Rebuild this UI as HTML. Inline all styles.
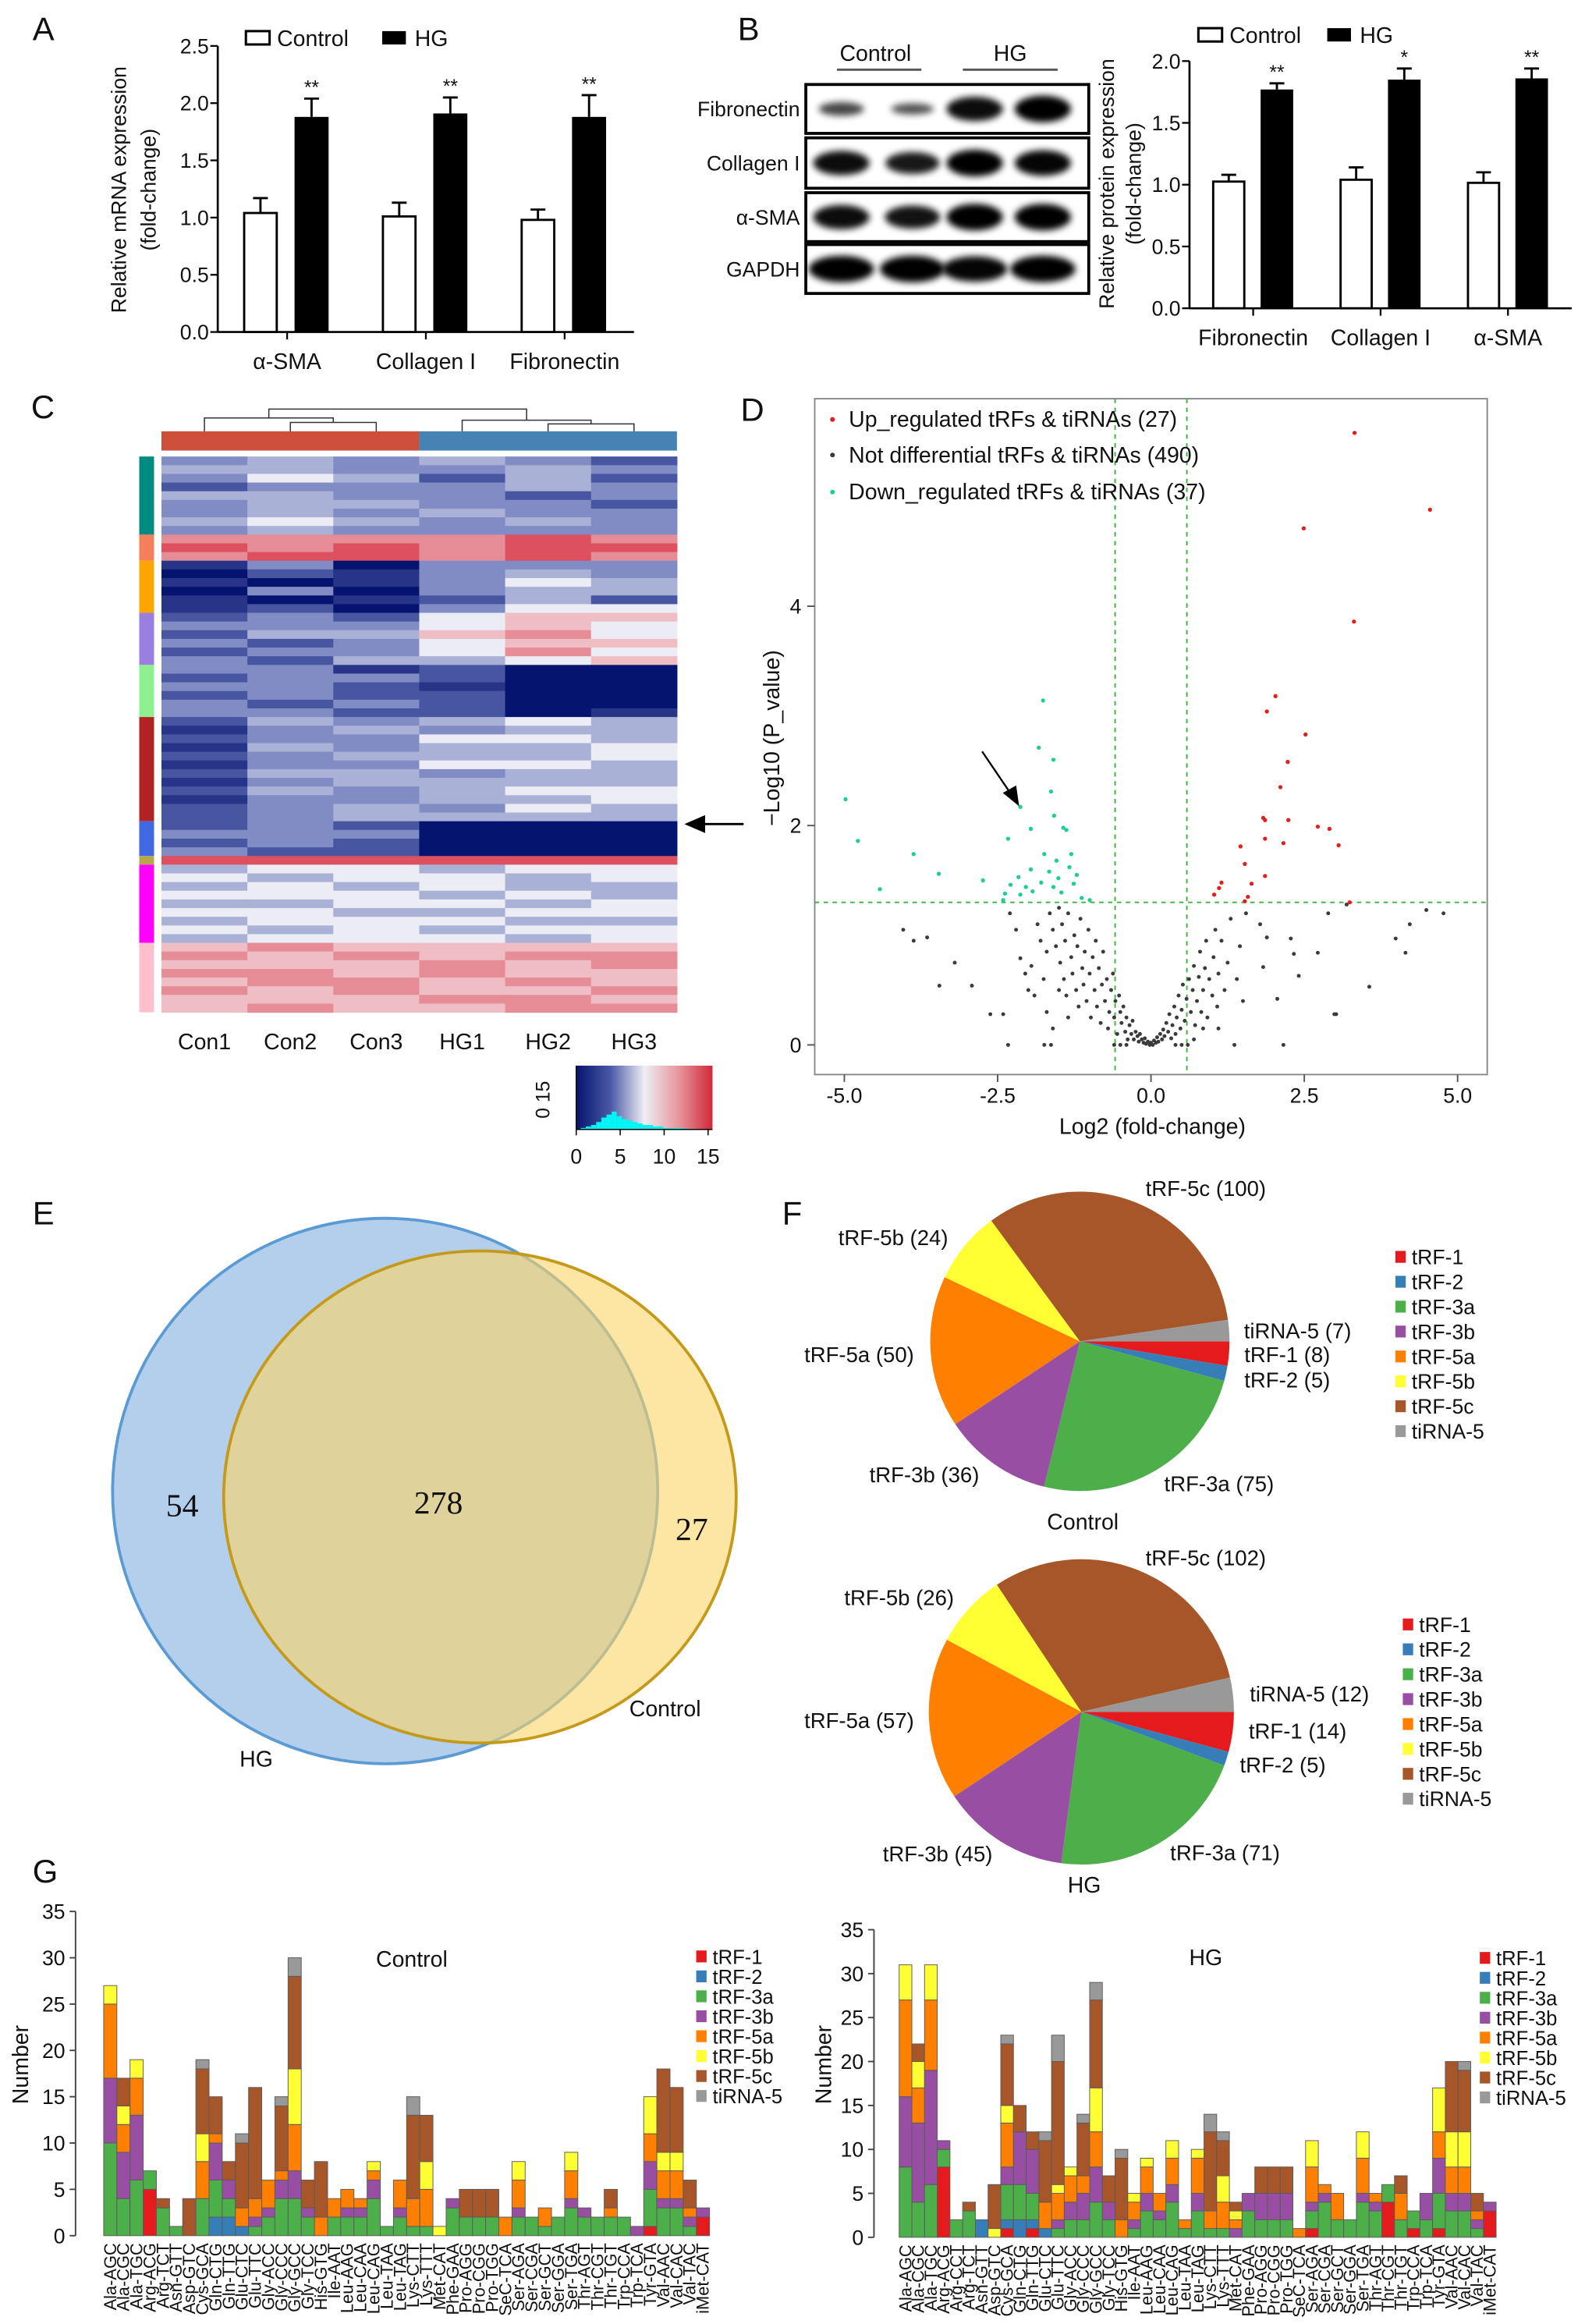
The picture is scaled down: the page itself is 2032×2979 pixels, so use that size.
<!DOCTYPE html>
<html><head><meta charset="utf-8">
<style>
html,body{margin:0;padding:0;background:#fff}
svg{display:block}
text{font-family:"Liberation Sans",sans-serif;fill:#111}
.n{font-family:"Liberation Sans Narrow","Liberation Sans",sans-serif}
.serif{font-family:"Liberation Serif",serif}
</style></head>
<body>
<svg id="fig" xmlns="http://www.w3.org/2000/svg" width="2032" height="2979" viewBox="0 0 1070 1568" preserveAspectRatio="none">
<defs>
<filter id="blur" x="-50%" y="-50%" width="200%" height="200%"><feGaussianBlur stdDeviation="2.2"/></filter>
<linearGradient id="keygrad" x1="0" y1="0" x2="1" y2="0">
<stop offset="0" stop-color="#05146e"/><stop offset="0.25" stop-color="#4a58a6"/><stop offset="0.5" stop-color="#eeeef4"/><stop offset="0.75" stop-color="#e6969c"/><stop offset="1" stop-color="#d2283a"/>
</linearGradient>
</defs>
<rect x="0" y="0" width="1070" height="1568" fill="#fff"/>
</svg>
<script>
// ---------- DATA ----------
const aCats=['α-SMA','Collagen I','Fibronectin'];
const aCtrl=[1.04,1.01,0.98];
const aCtrlErr=[0.13,0.12,0.09];
const aHG=[1.88,1.91,1.88];
const aHGErr=[0.16,0.14,0.19];
const aStars=['**','**','**'];
const aTicks=[0,0.5,1.0,1.5,2.0,2.5];

const bCats=['Fibronectin','Collagen I','α-SMA'];
const bCtrl=[1.025,1.04,1.015];
const bCtrlErr=[0.055,0.10,0.085];
const bHG=[1.77,1.85,1.86];
const bHGErr=[0.05,0.09,0.08];
const bStars=['**','*','**'];
const bTicks=[0,0.5,1.0,1.5,2.0];

const wbRows=['Fibronectin','Collagen I','α-SMA','GAPDH'];
const wbIntensity=[[0.45,0.35,0.9,1.0],[0.9,0.8,1.0,0.95],[0.9,0.85,1.0,1.0],[1.0,1.0,0.95,1.0]];

const hmCols=['Con1','Con2','Con3','HG1','HG2','HG3'];
const hmRows=[
"343432","443343","354242","233343","443323","344332","343433","454343","343333",
"777787","878788","788787",
"130333","021343","101354","030344","101242","120355",
"232566","333565","244675","323566","233575","324456",
"331200","233200","332100","232200","323200","332201",
"243454","134344","233554","143445","234445","133554","244344","134444","243455","133445","234354","234444",
"232000","333000","232000","322000",
"888888",
"455455","545545","454544","555454","445545","554455","455544","545455","455545",
"676666","767677","666767","776766","677676","767667","666776","676677"];
const hmGroupSizes=[9,3,6,6,6,12,4,1,9,8];
const hmGroupColors=['#008b82','#f47f5a','#ffa500','#9b7fe0','#8ff08f','#b22222','#4169e1','#b8a64a','#ff00ff','#ffc0cb'];
const keyTicks=[0,5,10,15];
const keyHist=[1,2,3,5,8,10,12,9,7,6,5,4,3,3,2,2,1,1,1,1,0.5,0.5];

const volUp=[[3.32,5.58],[4.55,4.88],[2.49,4.71],[3.31,3.86],[2.03,3.18],[1.89,3.04],[2.52,2.83],[2.23,2.58],[2.11,2.35],[1.83,2.07],[1.86,2.05],[2.24,2.05],[2.72,1.99],[2.91,1.97],[1.86,1.88],[2.16,1.84],[3.06,1.82],[1.46,1.81],[1.53,1.65],[1.86,1.54],[1.64,1.47],[1.15,1.48],[1.11,1.43],[1.03,1.37],[1.58,1.35],[1.53,1.31],[3.24,1.30]];
const volDown=[[-1.76,3.14],[-1.83,2.71],[-1.59,2.6],[-4.98,2.24],[-1.63,2.31],[-2.13,2.17],[-1.58,2.09],[-1.96,1.97],[-1.38,1.96],[-4.78,1.86],[-2.33,1.88],[-1.43,1.98],[-1.3,1.74],[-1.74,1.74],[-3.87,1.74],[-1.54,1.68],[-1.33,1.62],[-1.96,1.6],[-1.66,1.58],[-3.46,1.56],[-2.16,1.53],[-1.51,1.52],[-1.21,1.55],[-2.74,1.5],[-1.79,1.48],[-2.29,1.46],[-2.04,1.44],[-4.42,1.42],[-1.26,1.47],[-1.59,1.44],[-1.93,1.4],[-2.38,1.38],[-1.0,1.32],[-2.13,1.37],[-1.46,1.39],[-2.41,1.32],[-1.13,1.34]];
const volNone=[[-4.04,1.05],[-3.87,0.95],[-3.65,0.98],[-3.2,0.75],[-3.45,0.54],[-2.92,0.54],[-2.62,0.28],[-2.41,0.28],[-2.33,0],[-1.74,0],[-1.63,0],[-2.13,0.79],[-2.05,0.65],[-1.95,0.72],[-2.0,0.5],[-2.3,1.2],[-2.2,1.05],[-1.85,1.1],[-1.8,0.95],[-1.7,0.85],[-1.65,1.2],[-1.6,1.05],[-1.55,0.9],[-1.5,1.25],[-1.48,0.75],[-1.45,1.1],[-1.42,0.6],[-1.4,0.95],[-1.38,0.45],[-1.35,1.2],[-1.3,0.8],[-1.28,0.65],[-1.25,1.0],[-1.22,0.5],[-1.2,0.9],[-1.18,0.35],[-1.15,1.15],[-1.12,0.7],[-1.1,0.55],[-1.08,0.85],[-1.05,0.4],[-1.02,1.05],[-1.0,0.65],[-0.98,0.25],[-0.95,0.8],[-0.92,0.5],[-0.9,0.95],[-0.88,0.35],[-0.85,0.7],[-0.82,0.2],[-0.8,0.55],[-0.78,0.85],[-0.75,0.4],[-0.72,0.6],[-0.7,0.15],[-0.68,0.3],[-0.65,0.5],[-0.62,0.65],[-0.6,0.25],[-0.58,0.4],[-0.55,0.1],[-0.52,0.45],[-0.5,0.3],[-0.48,0.2],[-0.45,0.35],[-0.42,0.12],[-0.4,0.25],[-0.38,0.05],[-0.35,0.18],[-0.32,0.1],[-0.3,0.22],[-0.28,0.05],[-0.25,0.12],[-0.22,0.08],[-0.2,0.03],[-0.18,0.1],[-0.15,0.05],[-0.12,0.02],[-0.1,0.06],[-0.08,0.01],[-0.05,0.03],[-0.02,0.0],[0.0,0.02],[0.03,0.0],[0.05,0.04],[0.08,0.02],[0.1,0.07],[0.12,0.03],[0.15,0.1],[0.18,0.05],[0.2,0.14],[0.22,0.08],[0.25,0.2],[0.28,0.12],[0.3,0.28],[0.33,0.06],[0.35,0.18],[0.38,0.35],[0.4,0.1],[0.42,0.25],[0.45,0.45],[0.48,0.15],[0.5,0.32],[0.52,0.55],[0.55,0.22],[0.58,0.42],[0.6,0.0],[0.62,0.6],[0.65,0.3],[0.68,0.5],[0.7,0.72],[0.72,0.18],[0.75,0.4],[0.78,0.62],[0.8,0.85],[0.82,0.3],[0.85,0.5],[0.88,0.7],[0.9,0.95],[0.92,0.25],[0.95,0.6],[1.0,0.45],[1.02,0.8],[1.05,1.05],[1.08,0.35],[1.1,0.65],[1.15,0.95],[1.2,0.5],[1.25,0.75],[1.3,1.15],[1.36,0],[1.4,0.6],[1.45,0.9],[1.5,0.4],[1.55,1.2],[1.78,1.1],[1.83,0.71],[1.89,0.98],[2.06,0.42],[2.16,0],[2.28,0.97],[2.33,0.83],[2.41,0.63],[2.72,0.84],[2.89,1.2],[2.99,0.28],[3.02,0.28],[3.19,1.28],[3.56,0.53],[3.99,0.97],[4.15,0.84],[4.22,1.1],[4.49,1.23],[4.77,1.2],[-0.6,0],[-0.5,0],[-0.4,0],[0.4,0],[0.5,0],[-1.9,0.45],[-1.75,0.6],[-1.7,0.3],[-1.6,0.15],[-1.5,0.5],[-1.35,0.25],[0.7,0.05],[0.85,0.15],[1.1,0.15]];
const volXTicks=[-5.0,-2.5,0.0,2.5,5.0];
const volYTicks=[0,2,4];

const vennCounts=[54,278,27];

const fragTypes=['tRF-1','tRF-2','tRF-3a','tRF-3b','tRF-5a','tRF-5b','tRF-5c','tiRNA-5'];
const fragColors=['#e41a1c','#377eb8','#4daf4a','#984ea3','#ff7f00','#ffff33','#a65628','#999999'];
const pieCtrl=[8,5,75,36,50,24,100,7];
const pieHG=[14,5,71,45,57,26,102,12];

const gCatsCtrl=['Ala-AGC','Ala-CGC','Ala-TGC','Arg-ACG','Arg-TCT','Asn-GTT','Asp-GTC','Cys-GCA','Gln-CTG','Gln-TTG','Glu-CTC','Glu-TTC','Gly-ACC','Gly-CCC','Gly-GCC','Gly-TCC','His-GTG','Ile-AAT','Leu-AAG','Leu-CAA','Leu-CAG','Leu-TAA','Leu-TAG','Lys-CTT','Lys-TTT','Met-CAT','Phe-GAA','Pro-AGG','Pro-CGG','Pro-TGG','SeC-TCA','Ser-AGA','Ser-CGA','Ser-GCT','Ser-GGA','Ser-TGA','Thr-AGT','Thr-CGT','Thr-TGT','Trp-CCA','Trp-TCA','Tyr-GTA','Val-AAC','Val-CAC','Val-TAC','iMet-CAT'];
const gCatsHG=['Ala-AGC','Ala-CGC','Ala-TGC','Arg-ACG','Arg-CCT','Arg-TCT','Asn-GTT','Asp-GTC','Cys-GCA','Gln-CTG','Gln-TTG','Glu-CTC','Glu-TTC','Gly-ACC','Gly-CCC','Gly-GCC','Gly-TCC','His-GTG','Ile-AAT','Leu-AAG','Leu-CAA','Leu-CAG','Leu-TAA','Leu-TAG','Lys-CTT','Lys-TTT','Met-CAT','Phe-GAA','Pro-AGG','Pro-CGG','Pro-TGG','SeC-TCA','Ser-AGA','Ser-CGA','Ser-GCT','Ser-GGA','Ser-TGA','Thr-AGT','Thr-CGT','Thr-TGT','Trp-CCA','Trp-TCA','Tyr-GTA','Val-AAC','Val-CAC','Val-TAC','iMet-CAT'];
const gYTicks=[0,5,10,15,20,25,30,35];

const ctrlTRF1=[0,0,0,5,0,0,0,0,0,0,0,0,0,0,0,0,0,0,0,0,0,0,0,0,0,0,0,0,0,0,0,0,0,0,0,0,0,0,0,0,0,1,0,0,0,2];
const ctrlTRF2=[0,0,0,0,0,0,0,0,2,2,1,0,0,0,0,0,0,0,0,0,0,0,0,0,0,0,0,0,0,0,0,0,0,0,0,0,0,0,0,0,0,0,0,0,0,0];
const ctrlTRF3a=[10,4,6,2,3,1,0,4,4,2,0,1,2,4,4,2,0,2,2,2,4,1,2,1,1,0,3,2,2,2,0,2,2,1,2,3,2,2,2,2,0,4,3,3,1,0];
const ctrlTRF3b=[7,5,7,0,0,0,0,0,4,2,0,1,1,2,3,1,0,0,1,1,2,0,1,0,0,0,1,0,0,0,0,1,0,0,0,1,1,0,0,0,1,3,1,1,1,1];
const ctrlTRF5a=[8,3,4,0,0,0,0,4,1,0,2,2,3,1,5,0,2,2,2,1,1,0,3,3,4,0,0,0,0,0,2,3,0,2,0,3,0,0,1,0,0,3,3,3,1,0];
const ctrlTRF5b=[2,2,2,0,0,0,0,3,0,0,0,0,0,0,6,0,0,0,0,0,1,0,0,0,3,1,0,0,0,0,0,2,0,0,0,2,0,0,0,0,0,4,2,2,0,0];
const ctrlTRF5c=[0,3,0,0,1,0,4,7,4,2,7,12,0,7,10,3,6,0,0,0,0,0,0,9,5,0,0,3,3,3,0,0,0,0,0,0,0,0,2,0,0,0,9,7,3,0];
const ctrlTiRNA5=[0,0,0,0,0,0,0,1,0,0,1,0,0,1,2,0,0,0,0,0,0,0,0,2,0,0,0,0,0,0,0,0,0,0,0,0,0,0,0,0,0,0,0,0,0,0];

const hgTRF1=[0,0,0,8,0,0,0,0,1,0,1,0,0,0,0,0,0,0,0,0,0,0,0,0,0,0,0,0,0,0,0,0,1,0,0,0,0,0,4,0,1,0,1,0,0,0,3];
const hgTRF2=[0,0,0,0,0,0,2,0,1,2,1,1,0,0,0,0,0,0,0,0,0,0,0,0,0,0,0,0,0,0,0,0,0,0,0,0,0,0,0,0,0,0,0,0,0,0,0];
const hgTRF3a=[8,4,6,2,2,3,0,0,4,4,3,0,1,2,2,4,2,0,1,3,2,4,1,3,1,1,0,3,2,2,2,0,2,4,2,2,4,3,2,2,2,2,4,3,3,1,0];
const hgTRF3b=[8,9,13,1,0,0,0,0,2,6,5,0,1,2,3,4,2,0,1,2,1,2,0,2,0,0,1,2,3,3,3,0,1,1,0,0,1,1,0,0,0,3,4,2,2,1,1];
const hgTRF5a=[11,4,8,0,0,0,0,0,5,0,0,3,3,3,2,4,0,2,2,3,2,3,1,4,2,3,1,0,0,0,0,1,4,1,3,0,4,1,0,3,0,0,3,3,3,1,0];
const hgTRF5b=[4,3,4,0,0,0,0,1,2,0,0,0,1,1,0,5,0,0,1,1,0,2,0,1,0,3,1,0,0,0,0,0,3,0,0,0,3,0,0,0,0,0,5,4,4,0,0];
const hgTRF5c=[0,2,0,0,0,1,0,5,7,3,2,7,14,0,6,10,3,7,0,0,0,0,0,0,9,4,1,0,3,3,3,0,0,0,0,0,0,0,0,2,0,0,0,8,7,2,0];
const hgTiRNA5=[0,0,0,0,0,0,0,0,1,0,0,1,3,0,1,2,0,1,0,0,0,0,0,0,2,1,0,0,0,0,0,0,0,0,0,0,0,0,0,0,0,0,0,0,1,0,0];

// ---------- HELPERS ----------
const NS='http://www.w3.org/2000/svg';
const svg=document.getElementById('fig');
function mk(tag,attrs,parent){const e=document.createElementNS(NS,tag);for(const k in attrs)e.setAttribute(k,attrs[k]);(parent||svg).appendChild(e);return e;}
function tx(x,y,s,size,extra,parent){const e=mk('text',Object.assign({x:x,y:y,'font-size':size},extra||{}),parent);e.textContent=s;return e;}
function grp(name){const g=mk('g',{});


return g;}
function panelLetter(x,y,s){const t=tx(x,y,s,22,{});

}

panelLetter(22,27,'A');panelLetter(498,27,'B');panelLetter(21,282,'C');panelLetter(500,284,'D');
panelLetter(22,826,'E');panelLetter(528,826,'F');panelLetter(22,1270,'G');

// ---------- BAR PANELS A & B ----------
function barPanel(cfg,cats,ctrl,ctrlErr,hg,hgErr,stars,ticks){
  const g=grp(cfg.name);
  const y=v=>cfg.y0-v*cfg.ppu;
  const xc=i=>cfg.x0+(i+0.5)*(cfg.x1-cfg.x0)/cats.length;
  const ax=mk('line',{x1:cfg.x0,y1:cfg.y0,x2:cfg.x0,y2:y(ticks[ticks.length-1]),stroke:'#000','stroke-width':1.4},g);
  
  
  const xa=mk('line',{x1:cfg.x0,y1:cfg.y0,x2:cfg.x1,y2:cfg.y0,stroke:'#000','stroke-width':1.4},g);
  
  
  ticks.forEach(t=>{
    mk('line',{x1:cfg.x0-5,y1:y(t),x2:cfg.x0,y2:y(t),stroke:'#000','stroke-width':1.2},g);
    const l=tx(cfg.x0-6,y(t)+5,t.toFixed(1),14,{'text-anchor':'end',class:'n'},g);
    
    
  });
  cats.forEach((c,i)=>{
    const cx=xc(i);
    mk('line',{x1:cx,y1:cfg.y0,x2:cx,y2:cfg.y0+5,stroke:'#000','stroke-width':1.2},g);
    const lab=tx(cx,cfg.labY,c,15,{'text-anchor':'middle',class:'n'},g);
    
    
    const wx=cx+cfg.wOff, bx=cx+cfg.bOff;
    mk('line',{x1:wx+cfg.ww/2,y1:y(ctrl[i]),x2:wx+cfg.ww/2,y2:y(ctrl[i]+ctrlErr[i]),stroke:'#000','stroke-width':1.5},g);
    mk('line',{x1:wx+cfg.ww/2-5,y1:y(ctrl[i]+ctrlErr[i]),x2:wx+cfg.ww/2+5,y2:y(ctrl[i]+ctrlErr[i]),stroke:'#000','stroke-width':1.5},g);
    const wb=mk('rect',{x:wx,y:y(ctrl[i]),width:cfg.ww,height:ctrl[i]*cfg.ppu,fill:'#fff',stroke:'#000','stroke-width':1.5},g);
    
    
    mk('line',{x1:bx+cfg.bw/2,y1:y(hg[i]),x2:bx+cfg.bw/2,y2:y(hg[i]+hgErr[i]),stroke:'#000','stroke-width':1.5},g);
    mk('line',{x1:bx+cfg.bw/2-5,y1:y(hg[i]+hgErr[i]),x2:bx+cfg.bw/2+5,y2:y(hg[i]+hgErr[i]),stroke:'#000','stroke-width':1.5},g);
    const bb=mk('rect',{x:bx,y:y(hg[i]),width:cfg.bw,height:hg[i]*cfg.ppu,fill:'#000'},g);
    
    
    const st=tx(bx+cfg.bw/2,y(hg[i]+hgErr[i])-3,stars[i],13,{'text-anchor':'middle'},g);
    
    
  });
  const lg=grp('legend');g.appendChild(lg);
  mk('rect',{x:cfg.legX,y:cfg.legY,width:16,height:9,fill:'#fff',stroke:'#000','stroke-width':1.6},lg);
  tx(cfg.legX+21,cfg.legY+10,'Control',15,{class:'n'},lg);
  mk('rect',{x:cfg.legX2,y:cfg.legY,width:16,height:9,fill:'#000'},lg);
  tx(cfg.legX2+22,cfg.legY+10,'HG',15,{class:'n'},lg);
  const t1=tx(0,0,cfg.title1,14,{'text-anchor':'middle',transform:`translate(${cfg.tx1},${cfg.ty}) rotate(-90)`},g);
  
  
  const t2=tx(0,0,'(fold-change)',14,{'text-anchor':'middle',transform:`translate(${cfg.tx2},${cfg.ty}) rotate(-90)`},g);
  
  
}
barPanel({name:'panel-a-mrna-chart',x0:147,x1:428,y0:224,ppu:77.2,wOff:-29,ww:22,bOff:5,bw:23,labY:249,legX:166,legY:21,legX2:258,title1:'Relative mRNA expression',tx1:85,tx2:105,ty:128},aCats,aCtrl,aCtrlErr,aHG,aHGErr,aStars,aTicks);
barPanel({name:'panel-b-protein-chart',x0:803,x1:1061,y0:208,ppu:83.4,wOff:-27,ww:21,bOff:5,bw:22,labY:233,legX:809,legY:19,legX2:896,title1:'Relative protein expression',tx1:752,tx2:770,ty:124},bCats,bCtrl,bCtrlErr,bHG,bHGErr,bStars,bTicks);

// ---------- WESTERN BLOT ----------
(function(){
  const g=grp('western-blot');
  const rowsY=[[57,90],[93,127],[130,163],[165,198]];
  const lanes=[568,616,658,704];
  tx(591,41,'Control',15,{'text-anchor':'middle',class:'n'},g);
  tx(682,41,'HG',15,{'text-anchor':'middle',class:'n'},g);
  mk('line',{x1:565,y1:47,x2:622,y2:47,stroke:'#555','stroke-width':1.5},g);
  mk('line',{x1:650,y1:47,x2:714,y2:47,stroke:'#555','stroke-width':1.5},g);
  wbRows.forEach((r,i)=>{
    const [y0,y1]=rowsY[i];const cy=(y0+y1)/2;
    const box=mk('rect',{x:544,y:y0,width:191,height:y1-y0,fill:'#fff',stroke:'#000','stroke-width':2},g);
    
    
    lanes.forEach((lx,j)=>{
      const k=wbIntensity[i][j];
      mk('ellipse',{cx:lx,cy:cy,rx:(i===3?22:19)*Math.min(1,0.6+k*0.45),ry:8*k+1,fill:'#000',filter:'url(#blur)',opacity:Math.min(1,0.5+k*0.5)},g);
    });
    const l=tx(540,cy+5,r,14,{'text-anchor':'end',class:'n'},g);
    
    
  });
})();

// ---------- HEATMAP C ----------
(function(){
  const g=grp('panel-c-heatmap');
  const x0=109,x1=457,y0=308,y1=683;
  const cw=(x1-x0)/hmCols.length, rh=(y1-y0)/hmRows.length;
  const stops=[[0,[5,20,110]],[2,[72,86,162]],[3,[130,140,196]],[4,[170,177,214]],[5,[236,236,244]],[6,[238,190,196]],[7,[230,140,150]],[8,[220,80,95]],[9,[205,30,50]]];
  function col(v){for(let s=0;s<stops.length-1;s++){const [a,ca]=stops[s],[b,cb]=stops[s+1];if(v>=a&&v<=b){const t=(v-a)/(b-a);return 'rgb('+ca.map((c,k)=>Math.round(c+(cb[k]-c)*t)).join(',')+')';}}return 'rgb(205,30,50)';}
  hmRows.forEach((row,r)=>{
    for(let c=0;c<hmCols.length;c++){
      const cell=mk('rect',{x:x0+c*cw,y:y0+r*rh,width:cw+0.3,height:rh+0.3,fill:col(+row[c])},g);
      
      
    }
  });
  let acc=0;
  hmGroupSizes.forEach((n,i)=>{
    const s=mk('rect',{x:94,y:y0+acc*rh,width:10,height:n*rh,fill:hmGroupColors[i]},g);
    
    
    acc+=n;
  });
  const cb1=mk('rect',{x:x0,y:291,width:cw*3,height:13,fill:'#cd4f3a'},g);
  
  
  const cb2=mk('rect',{x:x0+cw*3,y:291,width:cw*3,height:13,fill:'#4682b4'},g);
  
  
  const cx=i=>x0+(i+0.5)*cw;
  const d=grp('dendrogram');g.appendChild(d);
  const ln=(pts)=>mk('polyline',{points:pts.map(p=>p.join(',')).join(' '),fill:'none',stroke:'#333','stroke-width':0.8},d);
  const m23=(cx(1)+cx(2))/2, mC=(cx(0)+m23)/2, m56=(cx(4)+cx(5))/2, mH=(cx(3)+m56)/2;
  ln([[cx(1),291],[cx(1),285],[cx(2),285],[cx(2),291]]);
  ln([[cx(0),291],[cx(0),282],[m23,282],[m23,285]]);
  ln([[cx(4),291],[cx(4),286],[cx(5),286],[cx(5),291]]);
  ln([[cx(3),291],[cx(3),283.5],[m56,283.5],[m56,286]]);
  ln([[mC,282],[mC,276],[mH,276],[mH,283.5]]);
  hmCols.forEach((c,i)=>{const l=tx(cx(i),708,c,15,{'text-anchor':'middle',class:'n'},g);
    
    });
  mk('line',{x1:502,y1:556,x2:474,y2:556,stroke:'#000','stroke-width':1.5},g);
  mk('polygon',{points:'462,556 476,550 476,562',fill:'#000'},g);
  const k=grp('color-key');g.appendChild(k);
  mk('rect',{x:389,y:719,width:92,height:43,fill:'url(#keygrad)'},k);
  const kx=v=>389+v*92/15.5;
  const bw=92/keyHist.length/1.2;
  keyHist.forEach((h,i)=>{const b=mk('rect',{x:392+i*bw,y:762-h*1.0,width:bw,height:h*1.0,fill:'#00f5f5'},k);
    
    });
  mk('line',{x1:389,y1:762,x2:481,y2:762,stroke:'#000','stroke-width':0.8},k);
  mk('line',{x1:389,y1:719,x2:389,y2:762,stroke:'#000','stroke-width':0.8},k);
  keyTicks.forEach(t=>{mk('line',{x1:kx(t),y1:762,x2:kx(t),y2:766,stroke:'#000','stroke-width':0.8},k);
    tx(kx(t),785,String(t),14,{'text-anchor':'middle',class:'n'},k);});
  tx(0,0,'0  15',13,{'text-anchor':'middle',class:'n',transform:'translate(371,742) rotate(-90)'},k);
})();

// ---------- VOLCANO D ----------
(function(){
  const g=grp('panel-d-volcano');
  const xD=v=>777+v*41.4, yD=v=>705-v*74;
  const fr=mk('rect',{x:550,y:269,width:454,height:456,fill:'none',stroke:'#888','stroke-width':1},g);
  
  
  volXTicks.forEach(t=>{mk('line',{x1:xD(t),y1:725,x2:xD(t),y2:730,stroke:'#555'},g);
    const l=tx(xD(t),744,t.toFixed(1),14,{'text-anchor':'middle',class:'n'},g);
    
    });
  volYTicks.forEach(t=>{mk('line',{x1:545,y1:yD(t),x2:550,y2:yD(t),stroke:'#555'},g);
    const l=tx(541,yD(t)+5,String(t),14,{'text-anchor':'end',class:'n'},g);
    
    });
  const xl=tx(778,765,'Log2 (fold-change)',15,{'text-anchor':'middle',class:'n'},g);
  
  
  const yl=tx(0,0,'−Log10 (P_value)',15,{'text-anchor':'middle',transform:'translate(526,498) rotate(-90)'},g);
  
  
  [-0.585,0.585].forEach(v=>mk('line',{x1:xD(v),y1:269,x2:xD(v),y2:725,stroke:'#3cb043','stroke-width':1,'stroke-dasharray':'3,3'},g));
  mk('line',{x1:550,y1:yD(1.3),x2:1004,y2:yD(1.3),stroke:'#3cb043','stroke-width':1,'stroke-dasharray':'3,3'},g);
  volNone.forEach(p=>{const c=mk('circle',{cx:xD(p[0]),cy:yD(p[1]),r:1.3,fill:'#3a3a3a'},g);
    
    });
  volUp.forEach(p=>{const c=mk('circle',{cx:xD(p[0]),cy:yD(p[1]),r:1.4,fill:'#e0201c'},g);
    
    });
  volDown.forEach(p=>{const c=mk('circle',{cx:xD(p[0]),cy:yD(p[1]),r:1.4,fill:'#1dcf93'},g);
    
    });
  const lg=grp('volcano-legend');g.appendChild(lg);
  [['#e0201c','Up_regulated tRFs & tiRNAs (27)',283],['#3a3a3a','Not differential tRFs & tiRNAs (490)',307],['#1dcf93','Down_regulated tRFs & tiRNAs (37)',332]].forEach(e=>{
    mk('circle',{cx:562,cy:e[2],r:1.6,fill:e[0]},lg);
    tx(573,e[2]+5,e[1],15,{class:'n'},lg);
  });
  mk('line',{x1:663,y1:507,x2:682,y2:535,stroke:'#000','stroke-width':1.2},g);
  mk('polygon',{points:'688,544 677,535 686,530',fill:'#000'},g);
})();

// ---------- VENN E ----------
(function(){
  const g=grp('panel-e-venn');
  const b=mk('circle',{cx:260,cy:1006,r:184,fill:'#b4cfeb',stroke:'#5b9bd5','stroke-width':2},g);
  
  
  const y=mk('ellipse',{cx:324,cy:1010,rx:173,ry:166,fill:'#fbd465','fill-opacity':0.6,stroke:'#c59a1a','stroke-width':2},g);
  
  
  const pos=[[123,1023],[296,1021],[467,1039]];
  vennCounts.forEach((v,i)=>{const t=tx(pos[i][0],pos[i][1],String(v),22,{'text-anchor':'middle',class:'serif'},g);
    
    });
  tx(173,1192,'HG',15,{'text-anchor':'middle',class:'n'},g);
  tx(449,1158,'Control',15,{'text-anchor':'middle',class:'n'},g);
})();

// ---------- PIES F ----------
function pie(name,cx,cy,r,vals,labels,title,titleY,legY){
  const g=grp(name);
  const tot=vals.reduce((a,b)=>a+b,0);
  let a0=0;
  vals.forEach((v,i)=>{
    const a1=a0+v/tot*2*Math.PI;
    const p=`M${cx},${cy} L${cx+r*Math.cos(a0)},${cy+r*Math.sin(a0)} A${r},${r} 0 ${a1-a0>Math.PI?1:0} 1 ${cx+r*Math.cos(a1)},${cy+r*Math.sin(a1)} Z`;
    const s=mk('path',{d:p,fill:fragColors[i]},g);
    
    
    a0=a1;
  });
  labels.forEach(l=>{const t=tx(l[1],l[2],l[0],14.5,{'text-anchor':'middle',class:'n'},g);
    
    });
  tx(cx+2,titleY,title,15,{'text-anchor':'middle',class:'n'},g);
  fragTypes.forEach((f,i)=>{
    mk('rect',{x:legY[0],y:legY[1]+i*16.8-4,width:7,height:8,fill:fragColors[i]},g);
    const t=tx(legY[0]+11,legY[1]+i*16.8+5,f,14,{class:'n'},g);
    
    
  });
}
pie('pie-control',729,905,101,pieCtrl,[['tRF-5c ('+pieCtrl[6]+')',814,807],['tRF-5b ('+pieCtrl[5]+')',603,840],['tRF-5a ('+pieCtrl[4]+')',580,919],['tRF-3b ('+pieCtrl[3]+')',624,1000],['tRF-3a ('+pieCtrl[2]+')',823,1006],['tiRNA-5 ('+pieCtrl[7]+')',876,903],['tRF-1 ('+pieCtrl[0]+')',869,919],['tRF-2 ('+pieCtrl[1]+')',869,936]],'Control',1032,[942,848]);
pie('pie-hg',730,1155,103,pieHG,[['tRF-5c ('+pieHG[6]+')',814,1056],['tRF-5b ('+pieHG[5]+')',607,1083],['tRF-5a ('+pieHG[4]+')',580,1166],['tRF-3b ('+pieHG[3]+')',633,1256],['tRF-3a ('+pieHG[2]+')',827,1255],['tiRNA-5 ('+pieHG[7]+')',884,1148],['tRF-1 ('+pieHG[0]+')',876,1173],['tRF-2 ('+pieHG[1]+')',866,1196]],'HG',1277,[947,1096]);

// ---------- STACKED BARS G ----------
function stacked(name,title,cats,series,cfg){
  const g=grp(name);
  const y=v=>cfg.y0-v*cfg.ppu;
  const bw=(cfg.x1-cfg.bx0)/cats.length;
  const ax=mk('line',{x1:cfg.ax,y1:cfg.y0,x2:cfg.ax,y2:y(35),stroke:'#444','stroke-width':1},g);
  
  
  gYTicks.forEach(t=>{mk('line',{x1:cfg.ax-4,y1:y(t),x2:cfg.ax,y2:y(t),stroke:'#444'},g);
    const l=tx(cfg.ax-7,y(t)+5,String(t),14,{'text-anchor':'end',class:'n'},g);
    
    });
  cats.forEach((c,i)=>{
    let acc=0;
    const x=cfg.bx0+i*bw;
    series.forEach((s,k)=>{
      const v=s[i];
      if(v>0){const r=mk('rect',{x:x,y:y(acc+v),width:bw,height:v*cfg.ppu,fill:fragColors[k],stroke:'#5a5a5a','stroke-width':0.5},g);
        
        }
      acc+=v;
    });
    const l=tx(0,0,c,11.5,{'text-anchor':'end',class:'n',transform:`translate(${x+bw/2+3.9},${cfg.y0+5}) rotate(-90)`},g);
    
    
  });
  tx(cfg.titleX,cfg.titleY,title,15,{'text-anchor':'middle',class:'n'},g);
  const yt=tx(0,0,'Number',15,{'text-anchor':'middle',transform:`translate(${cfg.nx},1393) rotate(-90)`},g);
  
  
  fragTypes.forEach((f,i)=>{
    mk('rect',{x:cfg.legX,y:cfg.legY+i*13.45-4,width:7,height:8,fill:fragColors[i]},g);
    const t=tx(cfg.legX+11,cfg.legY+i*13.45+5,f,13.5,{class:'n'},g);
    
    
  });
}
stacked('chart-g-control','Control',gCatsCtrl,[ctrlTRF1,ctrlTRF2,ctrlTRF3a,ctrlTRF3b,ctrlTRF5a,ctrlTRF5b,ctrlTRF5c,ctrlTiRNA5],{y0:1508.4,ppu:6.25,ax:51,bx0:70,x1:479,titleX:278,titleY:1327,nx:19,legX:470,legY:1320});
stacked('chart-g-hg','HG',gCatsHG,[hgTRF1,hgTRF2,hgTRF3a,hgTRF3b,hgTRF5a,hgTRF5b,hgTRF5c,hgTiRNA5],{y0:1509.5,ppu:5.93,ax:590,bx0:607,x1:1010,titleX:814,titleY:1326,nx:561,legX:999,legY:1321});
</script>
</body></html>
